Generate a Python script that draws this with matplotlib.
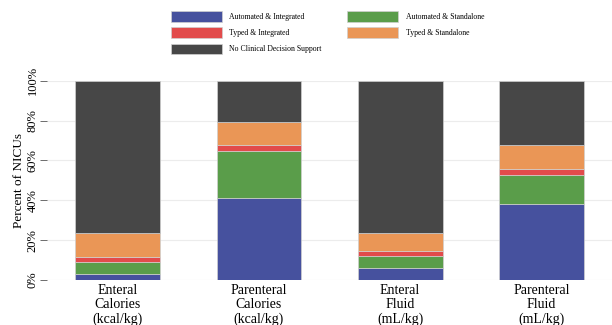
import numpy as np
import matplotlib
matplotlib.use("Agg")
from matplotlib import pyplot as plt
from matplotlib.patches import Patch

plt.rcParams['font.family'] = ['Liberation Serif', 'DejaVu Serif']

# data: percent of NICUs (n = 34)
categories = ["Enteral\nCalories\n(kcal/kg)", "Parenteral\nCalories\n(kcal/kg)",
              "Enteral\nFluid\n(mL/kg)", "Parenteral\nFluid\n(mL/kg)"]
auto_integrated = [2.9, 41.2, 5.9, 38.2]
auto_standalone = [5.9, 23.5, 5.9, 14.7]
typed_integrated = [2.9, 2.9, 2.9, 2.9]
typed_standalone = [11.8, 11.8, 8.8, 11.8]
no_cds = [76.5, 20.6, 76.5, 32.4]
y_ticks = [0, 20, 40, 60, 80, 100]

series = [
    ("Automated & Integrated", auto_integrated, "#46519e"),
    ("Automated & Standalone", auto_standalone, "#5a9d4a"),
    ("Typed & Integrated", typed_integrated, "#e24b4b"),
    ("Typed & Standalone", typed_standalone, "#ea9656"),
    ("No Clinical Decision Support", no_cds, "#474747"),
]

fig = plt.figure(figsize=(6.12, 3.25), dpi=100)
ax = fig.add_axes([47 / 612, 45 / 325, 565 / 612, 199.3 / 325])

x = np.arange(len(categories))
bottom = np.zeros(len(categories))
handles = {}
for name, vals, color in series:
    ax.bar(x, vals, width=0.6, bottom=bottom, color=color,
           edgecolor="#d0d0d0", linewidth=0.5, zorder=2)
    bottom += np.array(vals)
    handles[name] = Patch(facecolor=color, edgecolor="#d0d0d0", linewidth=0.5)

ax.set_xlim(-0.5, 3.5)
ax.set_ylim(0, 100)
ax.set_yticks(y_ticks)
ax.set_yticklabels([f"{t}%" for t in y_ticks], rotation=90, va="center", fontsize=9)
ax.set_xticks(x)
ax.set_xticklabels(categories, fontsize=10, linespacing=1.1)
ax.tick_params(axis="x", length=0, pad=3)
ax.tick_params(axis="y", length=5, width=0.6, color="#555555", pad=1)
ax.yaxis.grid(True, color="#ececec", linewidth=0.8, zorder=0)
for s in ax.spines.values():
    s.set_visible(False)
ax.set_ylabel("Percent of NICUs", fontsize=9.5, labelpad=1)

# legend: two columns, filled column-wise
order = ["Automated & Integrated", "Typed & Integrated", "No Clinical Decision Support",
         "Automated & Standalone", "Typed & Standalone"]
fig.legend([handles[n] for n in order], order, ncol=2, frameon=False,
           loc="upper left", bbox_to_anchor=(171 / 612, 1 - 11 / 325),
           fontsize=5.6, handlelength=6.5, handleheight=1.7,
           handletextpad=1.0, columnspacing=3.3, labelspacing=0.75,
           borderpad=0, borderaxespad=0)

fig.savefig("out.png", dpi=100)
